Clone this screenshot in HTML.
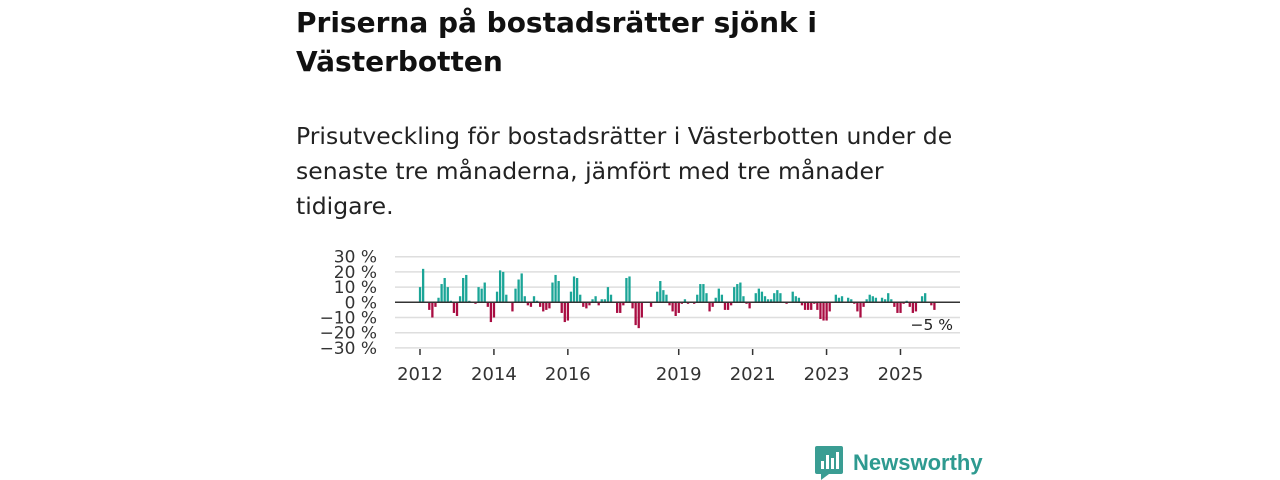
<!DOCTYPE html>
<html><head><meta charset="utf-8"><style>
body{margin:0;width:1280px;height:480px;background:#fff;font-family:"DejaVu Sans","Liberation Sans",sans-serif;position:relative;overflow:hidden;color:#111}
h1{position:absolute;left:296px;top:3px;margin:0;font-size:28px;line-height:39px;font-weight:bold;white-space:nowrap}
p.sub{position:absolute;left:296px;top:119px;margin:0;font-size:23.5px;line-height:35px;white-space:nowrap;color:#222}
svg{position:absolute;left:0;top:0}
.logo{position:absolute;left:815px;top:446px;display:flex;align-items:center;color:#2e9a90;font-size:22px;font-weight:bold;font-family:"Liberation Sans",sans-serif}
</style></head><body>
<h1>Priserna på bostadsrätter sjönk i<br>Västerbotten</h1>
<p class="sub">Prisutveckling för bostadsrätter i Västerbotten under de<br>senaste tre månaderna, jämfört med tre månader<br>tidigare.</p>
<svg id="chart" width="1280" height="480"></svg>
<div class="logo">
<svg width="28" height="34" viewBox="0 0 28 34" style="position:static;margin-right:10px"><path d="M2 0h24a2 2 0 0 1 2 2v24a2 2 0 0 1-2 2H14l-8 6v-6H2a2 2 0 0 1-2-2V2a2 2 0 0 1 2-2z" fill="#3a9d93"/><rect x="6" y="15" width="3" height="8" fill="#fff"/><rect x="11" y="9" width="3" height="14" fill="#fff"/><rect x="16" y="12" width="3" height="11" fill="#fff"/><rect x="21" y="6" width="3" height="17" fill="#fff"/></svg>
<span>Newsworthy</span></div>
<script>
const startYear = 2012;
const values = [10,22,0,-5,-10,-3,3,12,16,10,1,-7,-9,4,16,18,1,0,-1,10,9,13,-3,-13,-10,7,21,20,5,0,-6,9,15,19,4,-2,-3,4,1,-3,-6,-5,-4,13,18,14,-7,-13,-12,7,17,16,5,-3,-4,-2,2,4,-2,2,2,10,5,0,-7,-7,-2,16,17,-4,-15,-17,-10,0,0,-3,0,7,14,8,5,-2,-6,-9,-7,-1,2,-1,0,-1,5,12,12,6,-6,-3,3,9,5,-5,-5,-2,10,12,13,4,-1,-4,0,6,9,7,4,2,2,6,8,6,0,-1,0,7,4,3,-2,-5,-5,-5,-1,-5,-11,-12,-12,-6,0,5,3,4,0,3,2,-1,-6,-10,-3,2,5,4,3,0,3,2,6,2,-3,-7,-7,-1,1,-3,-7,-6,0,4,6,0,-2,-5];
const yTicks = [30,20,10,0,-10,-20,-30];
const xTickYears = [2012,2014,2016,2019,2021,2023,2025];
const svg = document.getElementById('chart');
const NS = 'http://www.w3.org/2000/svg';
const FF = 'DejaVu Sans, Liberation Sans, sans-serif';
const x0 = 420, pxMonth = 3.08, y0 = 302.3, pxUnit = 1.52;
const xs = m => x0 + m*pxMonth;
const ys = v => y0 - v*pxUnit;
function mk(t, a){const e=document.createElementNS(NS,t);for(const k in a)e.setAttribute(k,a[k]);svg.appendChild(e);return e;}
yTicks.forEach(v=>{
  if(v!==0){const l=mk('line',{x1:395,x2:960,y1:ys(v),y2:ys(v),stroke:'#dedede','stroke-width':1.5});
  
  }
  const t=mk('text',{x:377,y:ys(v)+6,'text-anchor':'end','font-size':17,fill:'#333','font-family':FF});
  t.textContent=(v<0?'\u2212'+(-v):v)+' %';
  
  
});
values.forEach((v,m)=>{
  const x=xs(m)-1.1;
  const r=mk('rect',{x:x,width:2.3,y:Math.min(ys(v),y0),height:Math.abs(ys(v)-y0),fill:v>=0?'#1ba597':'#a90d42'});
  
  
});
const zl=mk('line',{x1:395,x2:960,y1:y0,y2:y0,stroke:'#333','stroke-width':1.5});


xTickYears.forEach(yr=>{
  const x=xs((yr-startYear)*12);
  const l=mk('line',{x1:x,x2:x,y1:349,y2:355,stroke:'#333','stroke-width':1.5});
  
  
  const t=mk('text',{x:x,y:380,'text-anchor':'middle','font-size':18,fill:'#333','font-family':FF});
  t.textContent=yr;
  
  
});
const last=values[values.length-1];
const lb=mk('text',{x:953,y:330,'text-anchor':'end','font-size':15.5,fill:'#222','font-family':FF});
lb.textContent=(last<0?'\u2212'+(-last):last)+' %';


</script>
</body></html>
